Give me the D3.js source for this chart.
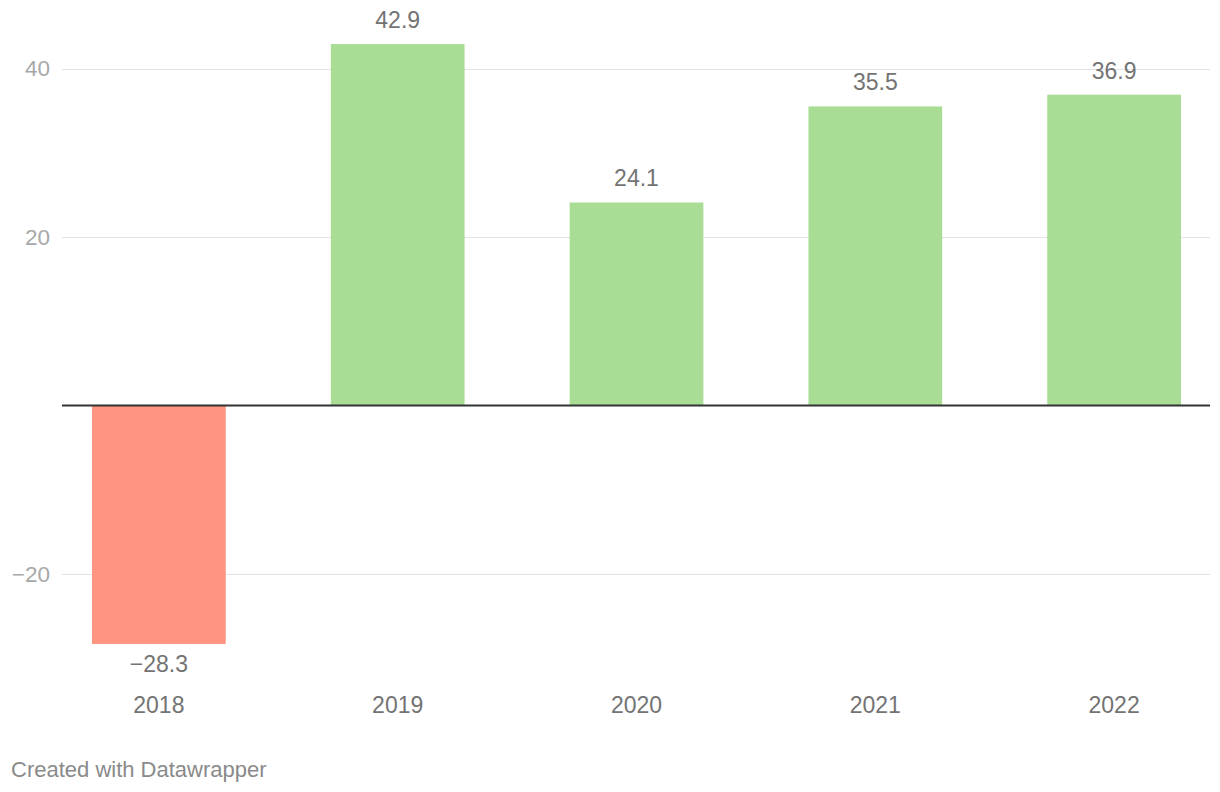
<!DOCTYPE html>
<html><head><meta charset="utf-8">
<script src="https://cdn.jsdelivr.net/npm/d3@7"></script>
<style>body{margin:0;background:#fff;} text{font-family:"Liberation Sans",Arial,Helvetica,sans-serif;}</style>
</head><body><svg id="c" width="1220" height="792"></svg>
<script>
const categories = ["2018","2019","2020","2021","2022"];
const values = [-28.3, 42.9, 24.1, 35.5, 36.9];
const yTicks = [-20, 20, 40];
const credit = "Created with Datawrapper";

const svg = d3.select("#c");
const y = d3.scaleLinear().domain([-30,45]).range([658.25, 26.4]);
const x = d3.scaleBand().domain(categories).range([92,1181]).paddingInner(0.44).paddingOuter(0);
const fmt = v => (v<0 ? "\u2212" : "") + d3.format(".1f")(Math.abs(v));
const tfmt = v => (v<0 ? "\u2212" : "") + Math.abs(v);

const g = svg.append("g");
g.selectAll("line.grid").data(yTicks).join("line")
  .attr("x1",62).attr("x2",1210).attr("y1",d=>Math.round(y(d))+0.5).attr("y2",d=>Math.round(y(d))+0.5)
  .attr("stroke","#e3e3e3").attr("stroke-width",1);
g.selectAll("text.tick").data(yTicks).join("text")
  .attr("x",50).attr("y",d=>y(d)).attr("text-anchor","end").attr("dominant-baseline","central")
  .attr("fill","#a8a8a8").attr("font-size",22.5).text(tfmt);

g.selectAll("rect").data(values).join("rect")
  .attr("x",(d,i)=>x(categories[i])).attr("width",x.bandwidth())
  .attr("y",d=>y(Math.max(0,d))).attr("height",d=>Math.abs(y(d)-y(0)))
  .attr("fill",d=>d<0?"#ff9580":"#a9dd96");

g.append("line").attr("x1",62).attr("x2",1210).attr("y1",y(0)).attr("y2",y(0))
  .attr("stroke","#333").attr("stroke-width",2);

g.selectAll("text.val").data(values).join("text")
  .attr("x",(d,i)=>x(categories[i])+x.bandwidth()/2)
  .attr("y",d=>d<0? y(d)+20 : y(d)-24)
  .attr("text-anchor","middle").attr("dominant-baseline","central")
  .attr("fill","#737373").attr("font-size",23).text(fmt);

g.selectAll("text.cat").data(categories).join("text")
  .attr("x",d=>x(d)+x.bandwidth()/2).attr("y",704.5)
  .attr("text-anchor","middle").attr("dominant-baseline","central")
  .attr("fill","#737373").attr("font-size",23).text(d=>d);

svg.append("text").attr("x",11).attr("y",769).attr("dominant-baseline","central")
  .attr("fill","#8a8a8a").attr("font-size",22).text(credit);
</script></body></html>
